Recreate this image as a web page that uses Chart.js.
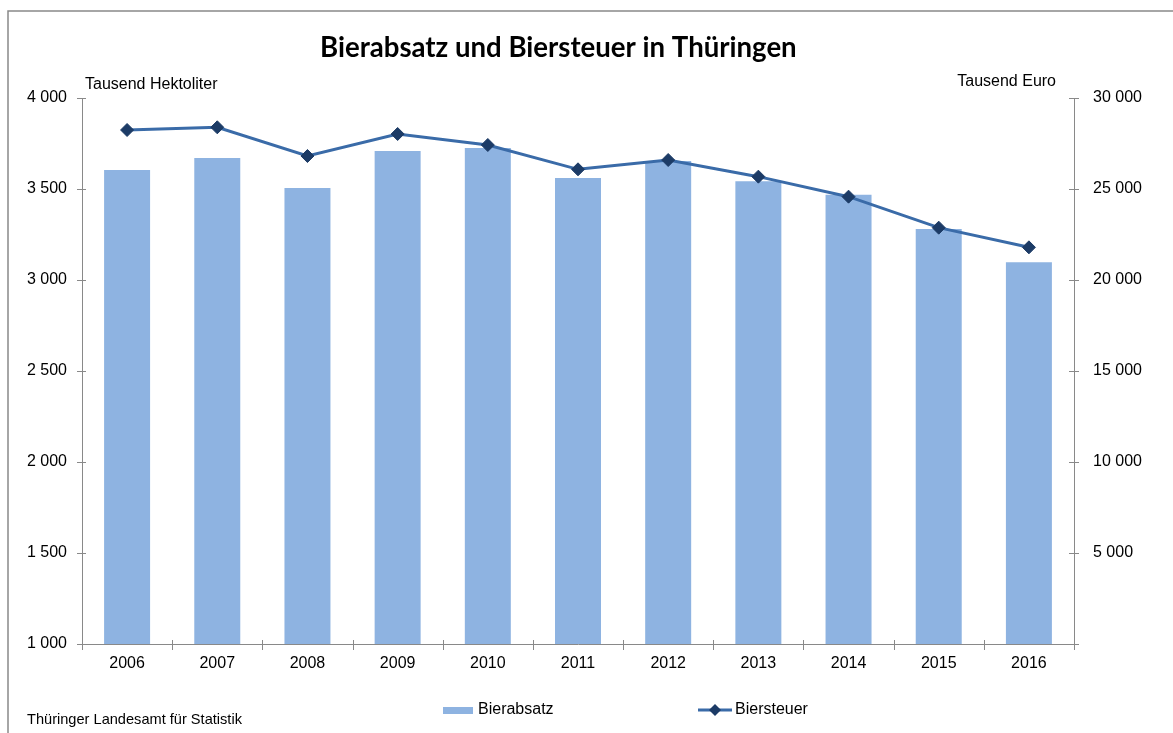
<!DOCTYPE html>
<html>
<head>
<meta charset="utf-8">
<script src="https://cdn.jsdelivr.net/npm/chart.js@4/dist/chart.umd.min.js"></script>
<style>
html,body{margin:0;padding:0;background:#fff;}
canvas{display:block;}
</style>
</head>
<body>
<canvas id="c" width="1173" height="733"></canvas>
<script>
const years = ['2006','2007','2008','2009','2010','2011','2012','2013','2014','2015','2016'];
const bierabsatz = [3604, 3670, 3505, 3709, 3725, 3560, 3654, 3542, 3469, 3280, 3097];
const biersteuer = [28242, 28390, 26813, 28022, 27418, 26081, 26593, 25678, 24579, 22875, 21795];
const titleText = 'Bierabsatz und Biersteuer in Thüringen';
const leftAxisTitle = 'Tausend Hektoliter';
const rightAxisTitle = 'Tausend Euro';
const sourceText = 'Thüringer Landesamt für Statistik';

const AXIS = '#898989';
const FONT = '"Liberation Sans", Arial, sans-serif';
const fmt = v => String(v).replace(/\B(?=(\d{3})+(?!\d))/g, ' ');

const extras = {
  id: 'extras',
  beforeDraw(chart) {
    const ctx = chart.ctx;
    ctx.save();
    ctx.fillStyle = '#fff';
    ctx.fillRect(0, 0, chart.width, chart.height);
    ctx.strokeStyle = AXIS;
    ctx.lineWidth = 1.5;
    ctx.beginPath();
    ctx.moveTo(8, chart.height + 2);
    ctx.lineTo(8, 11);
    ctx.lineTo(chart.width + 2, 11);
    ctx.stroke();
    ctx.restore();
  },
  afterDraw(chart) {
    const ctx = chart.ctx;
    const {x, y, y1} = chart.scales;
    ctx.save();
    // cross tick marks
    ctx.strokeStyle = AXIS;
    ctx.lineWidth = 1;
    ctx.beginPath();
    y.ticks.forEach(t => {
      const p = Math.round(y.getPixelForValue(t.value)) + 0.5;
      ctx.moveTo(x.left - 5, p); ctx.lineTo(x.left + 4, p);
    });
    y1.ticks.forEach(t => {
      const p = Math.round(y1.getPixelForValue(t.value)) + 0.5;
      ctx.moveTo(x.right - 5, p); ctx.lineTo(x.right + 5, p);
    });
    for (let i = 0; i <= years.length; i++) {
      const p = Math.round(x.getPixelForValue(i - 0.5)) + 0.5;
      ctx.moveTo(p, y.bottom - 4); ctx.lineTo(p, y.bottom + 6);
    }
    ctx.stroke();

    // title
    ctx.fillStyle = '#000';
    let fs = 26;
    ctx.font = 'bold ' + fs + 'px Lato, "Open Sans", sans-serif';
    const w = ctx.measureText(titleText).width;
    fs = fs * 477 / w;
    ctx.font = 'bold ' + fs + 'px Lato, "Open Sans", sans-serif';
    ctx.textAlign = 'left';
    ctx.textBaseline = 'alphabetic';
    ctx.fillText(titleText, 320, 57);

    // axis titles
    ctx.font = '16px ' + FONT;
    ctx.textBaseline = 'middle';
    ctx.textAlign = 'left';
    ctx.fillText(leftAxisTitle, 85, 85);
    ctx.textAlign = 'right';
    ctx.fillText(rightAxisTitle, 1056, 82);

    // source
    ctx.font = '14.6px ' + FONT;
    ctx.textAlign = 'left';
    ctx.fillText(sourceText, 27, 720);

    // legend
    const ds = chart.data.datasets;
    const barDs = ds.find(d => d.type === 'bar');
    const lineDs = ds.find(d => d.type === 'line');
    ctx.font = '16px ' + FONT;
    ctx.fillStyle = barDs.backgroundColor;
    ctx.fillRect(443, 707, 30, 7);
    ctx.fillStyle = '#000';
    ctx.textAlign = 'left';
    ctx.fillText(barDs.label, 478, 710);
    ctx.strokeStyle = lineDs.borderColor;
    ctx.lineWidth = 3;
    ctx.beginPath();
    ctx.moveTo(698, 710); ctx.lineTo(732, 710);
    ctx.stroke();
    ctx.fillStyle = lineDs.pointBackgroundColor;
    ctx.beginPath();
    ctx.moveTo(715, 704); ctx.lineTo(721, 710); ctx.lineTo(715, 716); ctx.lineTo(709, 710);
    ctx.closePath();
    ctx.fill();
    ctx.fillStyle = '#000';
    ctx.fillText(lineDs.label, 735, 710);
    ctx.restore();
  }
};

new Chart(document.getElementById('c'), {
  data: {
    labels: years,
    datasets: [
      {
        type: 'line',
        label: 'Biersteuer',
        data: biersteuer,
        yAxisID: 'y1',
        order: 0,
        borderColor: '#3A6BA8',
        borderWidth: 3,
        pointStyle: 'rectRot',
        pointRadius: 6.5,
        pointBackgroundColor: '#1C3B66',
        pointBorderColor: '#1C3B66',
        pointBorderWidth: 1,
        tension: 0
      },
      {
        type: 'bar',
        label: 'Bierabsatz',
        data: bierabsatz,
        yAxisID: 'y',
        order: 1,
        backgroundColor: '#8EB3E1',
        barPercentage: 0.51,
        categoryPercentage: 1.0
      }
    ]
  },
  options: {
    responsive: false,
    animation: false,
    devicePixelRatio: 1,
    layout: { padding: { top: 98, left: 0, right: 0, bottom: 0 } },
    plugins: { legend: { display: false }, tooltip: { enabled: false }, title: { display: false } },
    scales: {
      x: {
        type: 'category',
        offset: true,
        grid: { display: true, drawOnChartArea: false, drawTicks: false, offset: true },
        border: { display: true, color: AXIS, width: 1 },
        ticks: { color: '#000', font: { family: FONT, size: 16 }, padding: 10, maxRotation: 0 },
        afterFit(s) { s.height = 89; }
      },
      y: {
        type: 'linear',
        position: 'left',
        min: 1000, max: 4000,
        grid: { display: true, drawOnChartArea: false, drawTicks: false },
        border: { display: true, color: AXIS, width: 1 },
        ticks: { stepSize: 500, color: '#000', font: { family: FONT, size: 16 }, padding: 15, callback: v => fmt(v) },
        afterFit(s) { s.width = 82; }
      },
      y1: {
        type: 'linear',
        position: 'right',
        min: 0, max: 30000,
        grid: { display: true, drawOnChartArea: false, drawTicks: false },
        border: { display: true, color: AXIS, width: 1 },
        ticks: { stepSize: 5000, color: '#000', font: { family: FONT, size: 16 }, padding: 19, callback: v => v === 0 ? '' : fmt(v) },
        afterFit(s) { s.width = 99; }
      }
    }
  },
  plugins: [extras]
});
</script>
</body>
</html>
